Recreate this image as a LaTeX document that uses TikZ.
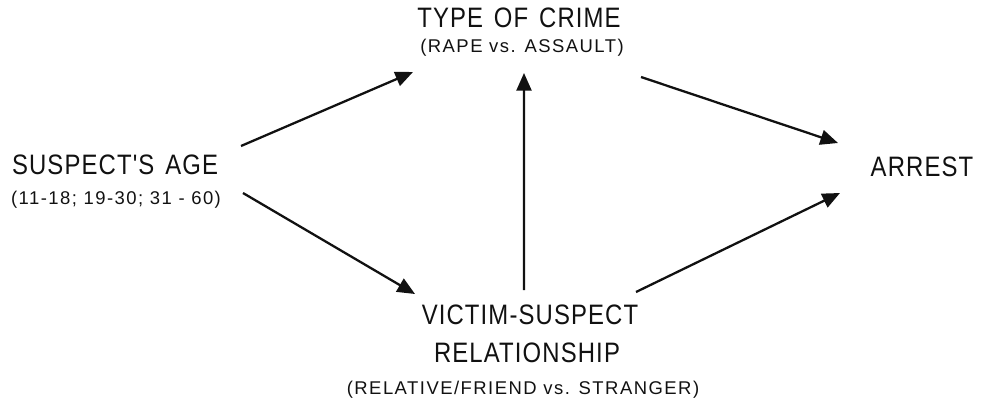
\documentclass[tikz,border=0pt]{standalone}
\usepackage{fontspec}
\usepackage{tikz}
\usetikzlibrary{arrows.meta}
\newfontfamily\lettering[FakeStretch=0.85,LetterSpace=4,WordSpace=1.4]{Liberation Sans}
\newfontfamily\sublettering[LetterSpace=8]{Liberation Sans}
\definecolor{inkblack}{HTML}{111111}

\tikzset{
  factor/.style={inkblack, inner sep=0pt, font=\lettering\fontsize{16}{19}\selectfont},
  levels/.style={inkblack, inner sep=0pt, font=\sublettering\fontsize{10.5}{12}\selectfont},
  effect/.style={inkblack, line width=1.3pt, -{Triangle[length=10pt,width=8.5pt]}}
}

\begin{document}
\begin{tikzpicture}
  \useasboundingbox (0,0) rectangle (19.62,8.04);

  % Variables
  \node[factor] (age) at (2.30,4.74) {SUSPECT'S AGE};
  \node[levels] (agelevels) at (2.32,4.04) {(11-18; 19-30; 31 - 60)};

  \node[factor] (crime) at (10.38,7.68) {TYPE OF CRIME};
  \node[levels] (crimelevels) at (10.44,7.08) {(RAPE vs. ASSAULT)};

  \node[factor] (victim) at (10.6,1.74) {VICTIM-SUSPECT};
  \node[factor] (relation) at (10.54,0.98) {RELATIONSHIP};
  \node[levels] (victimlevels) at (10.46,0.24) {(RELATIVE/FRIEND vs. STRANGER)};

  \node[factor] (arrest) at (18.44,4.70) {ARREST};

  % Causal paths
  \draw[effect] ([shift={(2.52,0.38)}]age.center) -- ([shift={(-2.18,-0.48)}]crimelevels.center);
  \draw[effect] ([shift={(2.54,0.14)}]agelevels.center) -- ([shift={(-2.30,0.42)}]victim.center);
  \draw[effect] ([shift={(-0.12,0.50)}]victim.center) -- ([shift={(0.04,-0.50)}]crimelevels.center);
  \draw[effect] ([shift={(2.38,-0.58)}]crimelevels.center) -- ([shift={(-1.68,0.48)}]arrest.center);
  \draw[effect] ([shift={(2.12,0.46)}]victim.center) -- ([shift={(-1.64,-0.52)}]arrest.center);
\end{tikzpicture}
\end{document}
